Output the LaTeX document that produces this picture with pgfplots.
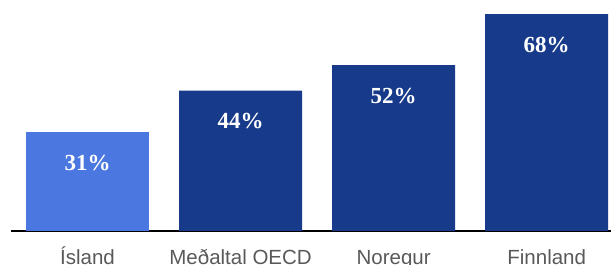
\documentclass[border=0pt]{standalone}
\usepackage{pgfplots}
\pgfplotsset{compat=1.18}
\usepackage{fontspec}
\setmainfont{Liberation Sans}
\newfontfamily\serifbold{Liberation Serif}
\definecolor{lightbar}{RGB}{74,120,224}
\definecolor{darkbar}{RGB}{23,58,138}
\definecolor{labelgray}{RGB}{89,89,89}
\begin{document}
\begin{tikzpicture}
\path[use as bounding box] (0,0) rectangle (611pt,265pt);
\begin{axis}[
  at={(11pt,34pt)}, anchor=south west,
  scale only axis, width=600pt, height=231pt,
  xmin=-0.5, xmax=3.42, ymin=0, ymax=72.4,
  hide y axis,
  axis x line=bottom,
  x axis line style={-, line width=1.4pt, black},
  xtick={0,1,2,3},
  xticklabels={Ísland, Meðaltal OECD, Noregur, Finnland},
  xtick style={draw=none},
  xticklabel style={anchor=base, yshift=-29pt, text=labelgray, font=\fontsize{20.5}{24}\selectfont},
  ybar, bar width=123pt,
  clip=false,
  /pgf/number format/assume math mode=true,
  nodes near coords={\pgfmathprintnumber[fixed,precision=0,assume math mode=true]{\pgfplotspointmeta}\%},
  every node near coord/.append style={anchor=center, yshift=-30.5pt, text=white, font=\serifbold\bfseries\fontsize{23}{27}\selectfont},
]
\addplot[fill=lightbar, draw=none, bar shift=0pt] coordinates {(0,31)};
\addplot[fill=darkbar, draw=none, bar shift=0pt] coordinates {(1,44) (2,52) (3,68)};
\end{axis}
\end{tikzpicture}
\end{document}
